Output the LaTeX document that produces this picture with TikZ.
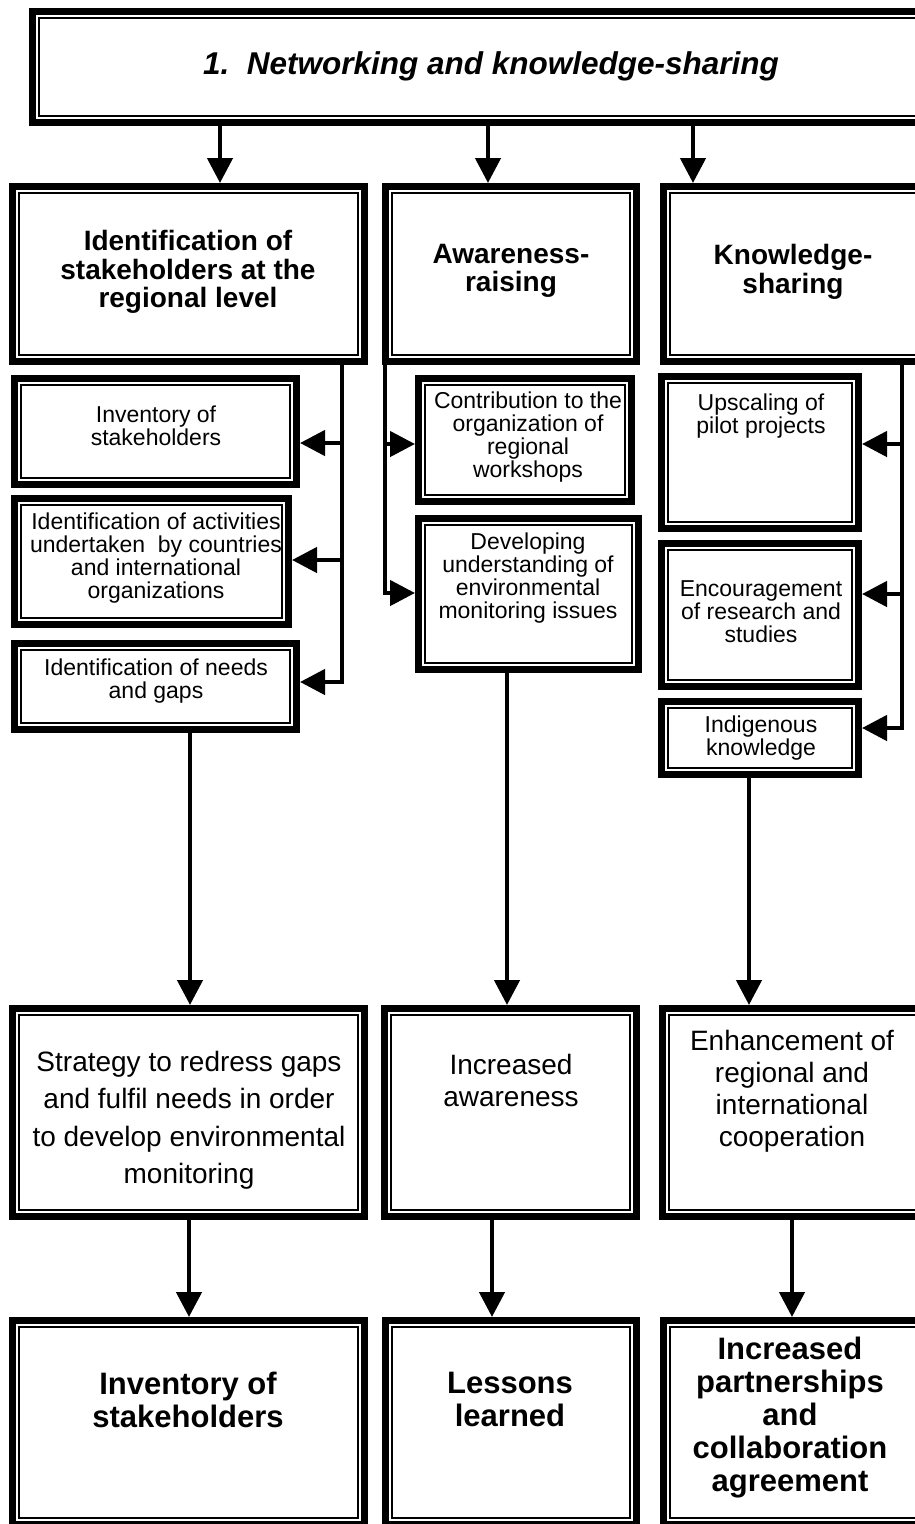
\documentclass[tikz,border=0pt]{standalone}
\usepackage{fontspec}
\setmainfont{Liberation Sans}
\usetikzlibrary{arrows.meta}
\tikzset{
  tbox/.style={draw=black,fill=white,line width=7pt,inner sep=0pt,
    path picture={\draw[line width=1.3pt]
      ([shift={(6.5pt,6.5pt)}]path picture bounding box.south west) rectangle
      ([shift={(-6.5pt,-6.5pt)}]path picture bounding box.north east);}},
  titletxt/.style={font=\bfseries\itshape\fontsize{31.5}{34}\selectfont,align=center},
  headtxt/.style={font=\bfseries\fontsize{28}{28.5}\selectfont,align=center},
  smalltxt/.style={font=\fontsize{23}{23}\selectfont,align=center},
  midtxt/.style={font=\fontsize{28}{32}\selectfont,align=center},
  bigtxt/.style={font=\bfseries\fontsize{31}{33}\selectfont,align=center},
  wire/.style={draw=black,line width=4.5pt},
  arr/.style={wire,-{Triangle[length=25pt,width=25pt]}},
}
\begin{document}
\begin{tikzpicture}[x=1pt,y=-1pt]
  \useasboundingbox (0,0) rectangle (915,1524);
  \clip (0,0) rectangle (915,1524);
  \fill[white] (0,0) rectangle (915,1524);
  % frames: name / left / top / right / bottom
  \foreach \nm/\xa/\ya/\xb/\yb in {T/29/8/953/126,
      L2/9/183/368/365, M2/382/183/640/365, R2/660/183/926/365,
      L3a/11/375/300/488, L3b/11/495/292/628, L3c/11/640/300/733,
      M3a/415/375/635/505, M3b/415/515/642/673,
      R3a/658/373/862/532, R3b/658/540/862/690, R3c/658/698/862/778,
      L4/9/1005/368/1220, M4/381/1005/640/1220, R4/659/1005/926/1220,
      L5/9/1317/368/1528, M5/382/1317/640/1528, R5/660/1317/926/1528}
    \node[tbox,anchor=north west,minimum width={(\xb-\xa-7)*1pt},
      minimum height={(\yb-\ya-7)*1pt}] (\nm) at (\xa,\ya) {};
  % texts
  \node[titletxt] (Tt) at (491,66) {1.\ \ Networking and knowledge-sharing};
  \node[headtxt] (L2t) at (188,272) {Identification of\\stakeholders at the\\regional level};
  \node[headtxt] (M2t) at (511,271) {Awareness-\\raising};
  \node[headtxt] (R2t) at (793,272) {Knowledge-\\sharing};
  \node[smalltxt] (L3at) at (156,426) {Inventory of\\stakeholders};
  \node[smalltxt] (L3bt) at (156,558) {Identification of activities\\undertaken\ \ by countries\\and international\\organizations};
  \node[smalltxt] (L3ct) at (156,681) {Identification of needs\\and gaps};
  \node[smalltxt] (M3at) at (528,437) {Contribution to the\\organization of\\regional\\workshops};
  \node[smalltxt] (M3bt) at (528,578) {Developing\\understanding of\\environmental\\monitoring issues};
  \node[smalltxt] (R3at) at (761,416) {Upscaling of\\pilot projects};
  \node[smalltxt] (R3bt) at (761,612) {Encouragement\\of research and\\studies};
  \node[smalltxt] (R3ct) at (761,738) {Indigenous\\knowledge};
  \node[midtxt,font=\fontsize{28}{37.5}\selectfont] (L4t) at (189,1120) {Strategy to redress gaps\\and fulfil needs in order\\to develop environmental\\monitoring};
  \node[midtxt] (M4t) at (511,1080) {Increased\\awareness};
  \node[midtxt] (R4t) at (792,1091) {Enhancement of\\regional and\\international\\cooperation};
  \node[bigtxt] (L5t) at (188,1400) {Inventory of\\stakeholders};
  \node[bigtxt] (M5t) at (510,1399) {Lessons\\learned};
  \node[bigtxt] (R5t) at (790,1418) {Increased\\partnerships\\and\\collaboration\\agreement};
  % top box to second row
  \foreach \c/\x in {L2/220, M2/488, R2/693}
    \draw[arr] (T.south -| \x,0) -- (\c.north -| \x,0);
  % side branches
  \foreach \c/\y in {L3a/443, L3b/560, L3c/682}
    \draw[arr] (L2.south -| 342,0) |- (\c.east |- 0,\y);
  \foreach \c/\y in {M3a/444, M3b/593}
    \draw[arr] (M2.south -| 385,0) |- (\c.west |- 0,\y);
  \foreach \c/\y in {R3a/444, R3b/594, R3c/728}
    \draw[arr] (R2.south -| 902,0) |- (\c.east |- 0,\y);
  % down to results
  \foreach \a/\b/\x in {L3c/L4/190, M3b/M4/507, R3c/R4/749,
      L4/L5/189, M4/M5/492, R4/R5/792}
    \draw[arr] (\a.south -| \x,0) -- (\b.north -| \x,0);
\end{tikzpicture}
\end{document}
